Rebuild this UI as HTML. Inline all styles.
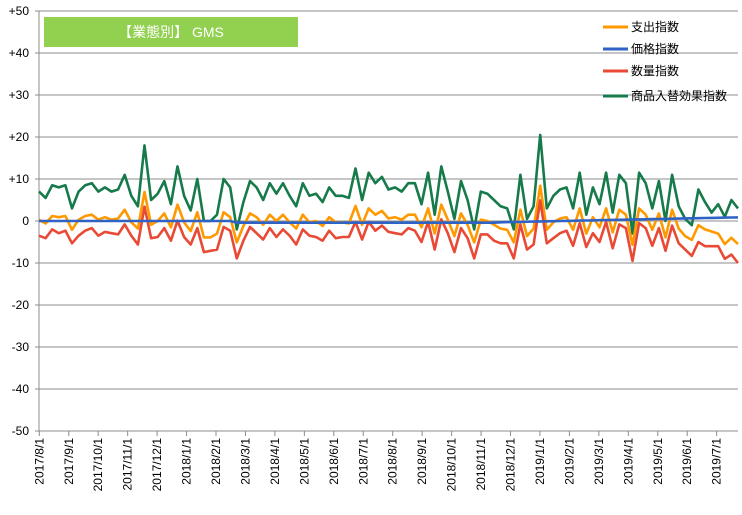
<!DOCTYPE html>
<html><head><meta charset="utf-8"><style>
body{margin:0;background:#fff}
svg text{font-family:"Liberation Sans","Noto Sans CJK JP",sans-serif;font-size:12px;fill:#000}
</style></head><body>
<svg id="s" width="742" height="510" xmlns="http://www.w3.org/2000/svg">
<rect width="742" height="510" fill="#fff"/>
<g id="grid"></g>
<rect x="44" y="17" width="254" height="30" fill="#92d050"/>
<text x="171" y="37" text-anchor="middle" style="fill:#fff;font-size:14px">【業態別】 GMS</text>
<g id="lines"></g>
<g>
<line x1="603" y1="27" x2="628" y2="27" stroke="#ff9900" stroke-width="3"/><text x="631" y="31">支出指数</text>
<line x1="603" y1="49" x2="628" y2="49" stroke="#2f62c5" stroke-width="3"/><text x="631" y="53">価格指数</text>
<line x1="603" y1="71" x2="628" y2="71" stroke="#e84a35" stroke-width="3"/><text x="631" y="75">数量指数</text>
<line x1="603" y1="96" x2="628" y2="96" stroke="#177a4a" stroke-width="3"/><text x="631" y="100">商品入替効果指数</text>
</g>
</svg>
<script>
var NS="http://www.w3.org/2000/svg";
function el(t,a,p,txt){var e=document.createElementNS(NS,t);for(var k in a)e.setAttribute(k,a[k]);if(txt!=null)e.textContent=txt;p.appendChild(e);return e;}
var grid=document.getElementById('grid'),lines=document.getElementById('lines');
function Y(v){return 221-v*4.2;}
for(var v=50;v>=-50;v-=10){
 var y=Y(v);
 if(v>-50) el('line',{x1:39,x2:738,y1:y,y2:y,stroke:'#8c8c8c','stroke-width':1},grid);
 el('line',{x1:35,x2:39,y1:y,y2:y,stroke:'#8c8c8c'},grid);
 el('text',{x:29,y:y+4,'text-anchor':'end'},grid,(v>0?'+':'')+v);
}
el('line',{x1:39,x2:39,y1:11,y2:431,stroke:'#8c8c8c'},grid);
el('line',{x1:39,x2:738,y1:431,y2:431,stroke:'#8c8c8c'},grid);
var labs=['2017/8/1','2017/9/1','2017/10/1','2017/11/1','2017/12/1','2018/1/1','2018/2/1','2018/3/1','2018/4/1','2018/5/1','2018/6/1','2018/7/1','2018/8/1','2018/9/1','2018/10/1','2018/11/1','2018/12/1','2019/1/1','2019/2/1','2019/3/1','2019/4/1','2019/5/1','2019/6/1','2019/7/1'];
for(var i=0;i<labs.length;i++){
 var x=39.3+i*29.45;
 el('line',{x1:x,x2:x,y1:431,y2:436,stroke:'#8c8c8c'},grid);
 el('text',{x:0,y:0,'text-anchor':'end',transform:'translate('+(x+4)+',438) rotate(-90)'},grid,labs[i]);
}
var g=[7,5.5,8.5,8,8.5,3,7,8.5,9,7,8,7,7.5,11,6,3.5,18,5,6.5,9.5,4,13,6,2.5,10,0,0,1.5,10,8,-2,4.5,9.5,8,5,9,6.5,9,6,3.5,9,6,6.5,4.5,8,6,6,5.5,12.5,5,11.5,9,10.5,7.5,8,7,9,9,4,11.5,1.5,13,7,0.5,9.5,5,-2,7,6.5,5,3.5,3,-2,11,0.5,3.5,20.5,3,6,7.5,8,3,11.5,1.5,8,4,11.5,2,11,9,-3,11.5,9,3,9.5,0,11,3.5,0.5,-1,7.5,4.5,2,4,1,5,3];
var n=g.length,step=699/(n-1);
var o=[],r=[],b=[];
for(var i=0;i<n;i++){
 var ov=(g[i]-6.5)*0.6;
 o.push(ov);
 r.push(ov-3.5+(i%3-1)*0.3);
 var bv=i<30?0:(i<70?-0.4:(i-70)/37*1.2-0.3);
 b.push(bv);
}
var tailO=[-1,-2,-2.5,-3,-5.5,-4,-5.5], tailR=[-5,-6,-6,-6,-9,-8,-10];
for(var k=0;k<7;k++){o[n-7+k]=tailO[k];r[n-7+k]=tailR[k];}
function path(d,c){var s='';for(var i=0;i<d.length;i++)s+=(i?'L':'M')+(39+i*step).toFixed(1)+','+Y(d[i]).toFixed(1);
 el('path',{d:s,fill:'none',stroke:c,'stroke-width':2.6,'stroke-linejoin':'round'},lines);}
path(g,'#177a4a');path(o,'#ff9900');path(r,'#e84a35');path(b,'#2f62c5');
</script>
</body></html>
